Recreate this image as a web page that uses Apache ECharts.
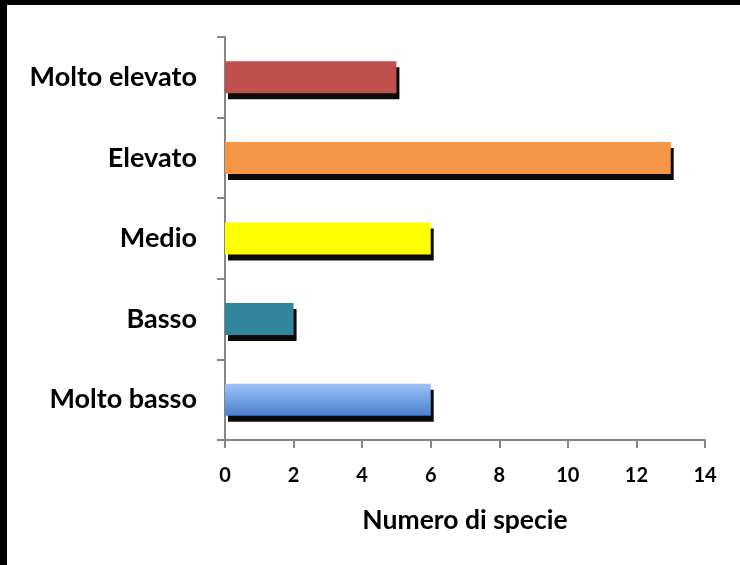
<!DOCTYPE html>
<html>
<head>
<meta charset="utf-8">
<script src="https://cdn.jsdelivr.net/npm/echarts@6/dist/echarts.min.js"></script>
<style>
html,body{margin:0;padding:0;background:#fff;}
#chart{width:740px;height:565px;}
</style>
</head>
<body>
<div id="chart"></div>
<script>
var categories = ['Molto basso', 'Basso', 'Medio', 'Elevato', 'Molto elevato'];
var values = [6, 2, 6, 13, 5];
var barColors = [null, '#31859C', '#FFFF00', '#F79646', '#C0504D'];
var xTicks = [0, 2, 4, 6, 8, 10, 12, 14];
var axisName = 'Numero di specie';

var FONT = 'Lato';
var chart = echarts.init(document.getElementById('chart'), null, {renderer: 'canvas'});

var seriesData = values.map(function (v, i) {
  var color = barColors[i];
  if (i === 0) {
    color = new echarts.graphic.LinearGradient(0, 0, 0, 1, [
      {offset: 0, color: '#9DC3F7'},
      {offset: 1, color: '#4A80CF'}
    ]);
  }
  return {value: v, itemStyle: {color: color}};
});

chart.setOption({
  animation: false,
  backgroundColor: '#ffffff',
  grid: {left: 225, right: 35, top: 37, bottom: 125, containLabel: false},
  xAxis: {
    type: 'value',
    min: xTicks[0],
    max: xTicks[xTicks.length - 1],
    interval: 2,
    name: axisName,
    nameLocation: 'middle',
    nameGap: 67,
    nameTextStyle: {fontFamily: FONT, fontWeight: 'bold', fontSize: 26.5, color: '#000'},
    axisLine: {show: true, lineStyle: {color: '#868686', width: 2}},
    axisTick: {show: true, length: 8, lineStyle: {color: '#868686', width: 2}},
    axisLabel: {fontFamily: FONT, fontWeight: 'bold', fontSize: 20, color: '#000', margin: 26},
    splitLine: {show: false}
  },
  yAxis: {
    type: 'category',
    data: categories,
    axisLine: {show: true, lineStyle: {color: '#868686', width: 2}},
    axisTick: {show: true, length: 8, lineStyle: {color: '#868686', width: 2}},
    axisLabel: {fontFamily: FONT, fontWeight: 'bold', fontSize: 27, color: '#000', margin: 28},
    splitLine: {show: false}
  },
  series: [{
    type: 'bar',
    data: seriesData,
    barWidth: 32,
    itemStyle: {
      shadowColor: '#0a0a0a',
      shadowBlur: 0,
      shadowOffsetX: 3,
      shadowOffsetY: 6
    }
  }],
  graphic: [
    {type: 'rect', left: 0, top: 0, shape: {width: 740, height: 5}, style: {fill: '#000'}, z: 100},
    {type: 'rect', left: 0, top: 0, shape: {width: 7, height: 565}, style: {fill: '#000'}, z: 100}
  ]
});
</script>
</body>
</html>
